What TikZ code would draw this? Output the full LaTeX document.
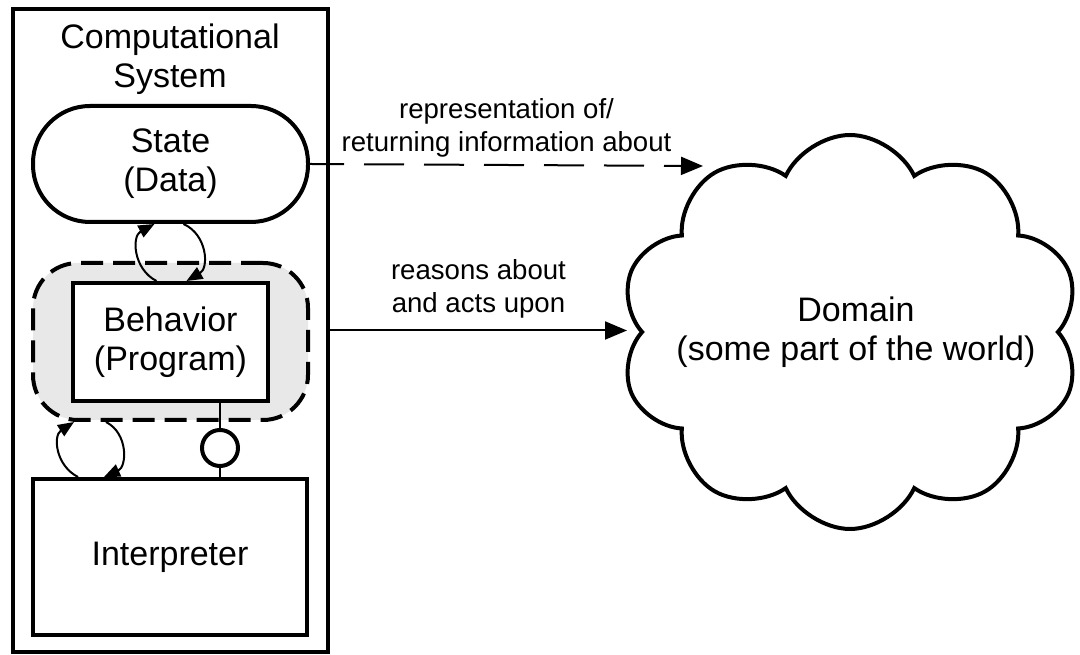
\documentclass[tikz,border=0pt]{standalone}
\usepackage{fontspec}
\setmainfont{Liberation Sans}
\usetikzlibrary{arrows.meta,positioning,shapes.symbols}
\definecolor{progfill}{RGB}{232,232,232}
\tikzstyle{bigtext}=[font=\fontsize{34}{39}\selectfont, align=center, inner sep=0pt]
\tikzstyle{smalltext}=[font=\fontsize{27.6}{33}\selectfont, align=center]
\tikzstyle{box}=[rectangle, draw, line width=4pt, bigtext]
\tikzstyle{roundarrow}=[line width=2pt, -{Triangle[length=16pt,width=13pt]}, looseness=1.17]
\tikzstyle{link}=[line width=2pt, -{Triangle[length=22pt,width=18pt]}]

\begin{document}
\begin{tikzpicture}[x=1pt, y=1pt]
  \useasboundingbox (0,0) rectangle (1080,655);

  % system box
  \node[box, minimum width=315pt, minimum height=643pt] (sys) at (170.5,324.5) {};
  \node[bigtext] (systitle) at (170,596) {Computational\\System};

  \node[box, rounded corners=57pt, minimum width=275pt, minimum height=116pt] (state) at (170.5,491) {State\\(Data)};
  \node[rectangle, draw, line width=4pt, dash pattern=on 22pt off 10pt, rounded corners=45pt,
        fill=progfill, minimum width=275pt, minimum height=157pt] (prog) at (170.5,313.5) {};
  \node[box, fill=white, minimum width=195pt, minimum height=118pt] (beh) at (170.5,313) {Behavior\\(Program)};
  \node[box, minimum width=274pt, minimum height=156pt] (interp) at (170,98) {Interpreter};
  \node[circle, draw, line width=4pt, minimum size=36pt, inner sep=0pt] (ball) at (220,207) {};

  \draw[line width=2pt] (ball) -- (ball |- beh.south);
  \draw[line width=2pt] (ball) -- (ball |- interp.north);

  \draw[roundarrow] ([xshift=-14pt]beh.north) to[out=153,in=208] ([xshift=-16pt]state.south);
  \draw[roundarrow] ([xshift=13pt]state.south) to[out=-24,in=30] ([xshift=16pt]beh.north);
  \draw[roundarrow] ([xshift=-92pt]interp.north) to[out=153,in=213] ([xshift=-96.5pt]prog.south);
  \draw[roundarrow] ([xshift=-64.5pt]prog.south) to[out=-27,in=24] ([xshift=-66pt]interp.north);

  % domain
  \node[cloud, draw, line width=4pt, cloud puffs=10, cloud puff arc=130, cloud ignores aspect,
        minimum width=460pt, minimum height=394pt, inner sep=0pt,
        label={[bigtext, xshift=6pt]center:Domain\\(some part of the world)}] (dom) at (850,323) {};
  \coordinate (domtip) at (703,489);
  \coordinate (acttip) at (627,324.5);

  \draw[link, dash pattern=on 40pt off 20pt, dash phase=6pt] (state.east) --
    node[smalltext, above, inner sep=7pt] (replabel) {representation of/\\returning information about} (domtip);
  \draw[link] (sys.east) --
    node[smalltext, above, inner sep=11pt] (actlabel) {reasons about\\and acts upon} (acttip);
\end{tikzpicture}
\end{document}
